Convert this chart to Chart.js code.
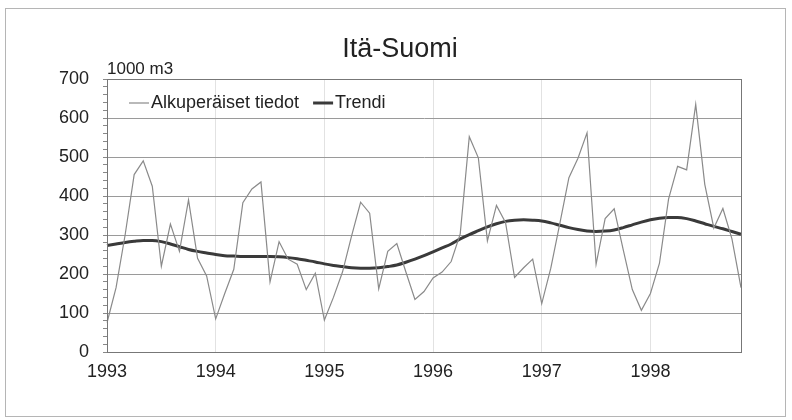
<!DOCTYPE html>
<html>
<head>
<meta charset="utf-8">
<script src="https://cdn.jsdelivr.net/npm/chart.js@4/dist/chart.umd.min.js"></script>
<style>
  body { margin: 0; background: #fff; }
  #wrap { position: relative; width: 792px; height: 420px; }
</style>
</head>
<body>
<div id="wrap"><canvas id="chart" width="792" height="420"></canvas></div>
<script>
const vuodet = ["1993", "1994", "1995", "1996", "1997", "1998"];
const kuukaudet = ["01", "02", "03", "04", "05", "06", "07", "08", "09", "10", "11", "12"];

// kuukausittaiset arvot, 1000 m3 (tammi 1993 - marras 1998)
const alkuperaiset = [
  75, 165, 300, 455, 490, 425, 220, 328, 258, 390, 240, 195,
  85, 150, 212, 383, 418, 436, 180, 283, 238, 225, 160, 202,
  82, 140, 205, 297, 384, 356, 162, 258, 278, 205, 135, 155,
  190, 205, 232, 303, 552, 498, 285, 376, 332, 191, 216, 238,
  124, 215, 330, 447, 497, 562, 225, 342, 367, 262, 160, 107,
  150, 228, 392, 476, 467, 635, 430, 318, 368, 290, 165
];
const trendi = [
  273, 277, 281, 284, 286, 286, 283, 277, 270, 263, 258, 254,
  250, 247, 246, 245, 245, 245, 245, 244, 242, 239, 235, 231,
  226, 222, 219, 216, 215, 215, 216, 219, 223, 230, 238, 247,
  257, 267, 277, 290, 301, 311, 321, 329, 335, 338, 339, 338,
  336, 331, 325, 319, 314, 310, 309, 310, 313, 319, 326, 333,
  339, 343, 345, 345, 342, 336, 329, 322, 316, 309, 302
];
const yTicks = [0, 100, 200, 300, 400, 500, 600, 700];

const labels = [];
vuodet.forEach(v => kuukaudet.forEach(k => labels.push(v + "-" + k)));
labels.length = alkuperaiset.length;

const fontti = "'Liberation Sans', Arial, sans-serif";

const koristeet = {
  id: "koristeet",
  afterDraw(chart) {
    const ctx = chart.ctx;
    const a = chart.chartArea;
    ctx.save();
    // kehys
    ctx.strokeStyle = "#b5b5b5";
    ctx.lineWidth = 1;
    ctx.strokeRect(5.5, 8.5, 780, 408);
    // kuva-alueen reunat
    ctx.strokeStyle = "#777";
    ctx.strokeRect(a.left + 0.5, a.top + 0.5, a.right - a.left, a.bottom - a.top);

    ctx.fillStyle = "#222";
    ctx.textBaseline = "middle";
    ctx.textAlign = "center";
    ctx.font = "27px " + fontti;
    ctx.fillText("Itä-Suomi", 400, 50);

    ctx.textAlign = "left";
    ctx.font = "17px " + fontti;
    ctx.fillText("1000 m3", 107, 69);

    // selite
    ctx.font = "18px " + fontti;
    let x = 129;
    const y = 103;
    chart.data.datasets.forEach(ds => {
      ctx.strokeStyle = ds.borderColor;
      ctx.lineWidth = ds.borderWidth;
      ctx.beginPath();
      ctx.moveTo(x, y);
      ctx.lineTo(x + 20, y);
      ctx.stroke();
      ctx.fillStyle = "#222";
      ctx.fillText(ds.label, x + 22, y);
      x += 22 + ctx.measureText(ds.label).width + 14;
    });
    ctx.restore();
  }
};

new Chart(document.getElementById("chart"), {
  type: "line",
  data: {
    labels: labels,
    datasets: [
      {
        label: "Alkuperäiset tiedot",
        data: alkuperaiset,
        borderColor: "#8a8a8a",
        borderWidth: 1.2,
        pointRadius: 0,
        tension: 0
      },
      {
        label: "Trendi",
        data: trendi,
        borderColor: "#3a3a3a",
        borderWidth: 3,
        pointRadius: 0,
        cubicInterpolationMode: "monotone"
      }
    ]
  },
  options: {
    responsive: false,
    animation: false,
    layout: { padding: { left: 0, right: 51, top: 79, bottom: 0 } },
    plugins: {
      legend: { display: false },
      title: { display: false },
      tooltip: { enabled: false }
    },
    scales: {
      x: {
        offset: false,
        afterFit: s => { s.height = 68; },
        border: { color: "#555", width: 1 },
        grid: {
          drawTicks: false,
          color: c => (c.index % 12 === 0 ? "#e2e2e2" : "rgba(0,0,0,0)")
        },
        ticks: {
          autoSkip: false,
          maxRotation: 0,
          padding: 9,
          color: "#222",
          font: { family: fontti, size: 18 },
          callback: (v, i) => (i % 12 === 0 ? vuodet[i / 12] : "")
        }
      },
      y: {
        min: yTicks[0],
        max: yTicks[yTicks.length - 1],
        afterFit: s => { s.width = 107; },
        border: { color: "#555", width: 1 },
        grid: {
          tickLength: 4,
          tickColor: "#888",
          color: c => (yTicks.includes(c.tick.value) ? "#9a9a9a" : "rgba(0,0,0,0)")
        },
        ticks: {
          autoSkip: false,
          stepSize: 20,
          padding: 14,
          color: "#222",
          font: { family: fontti, size: 18 },
          callback: v => (yTicks.includes(v) ? v : "")
        }
      }
    }
  },
  plugins: [koristeet]
});
</script>
</body>
</html>
